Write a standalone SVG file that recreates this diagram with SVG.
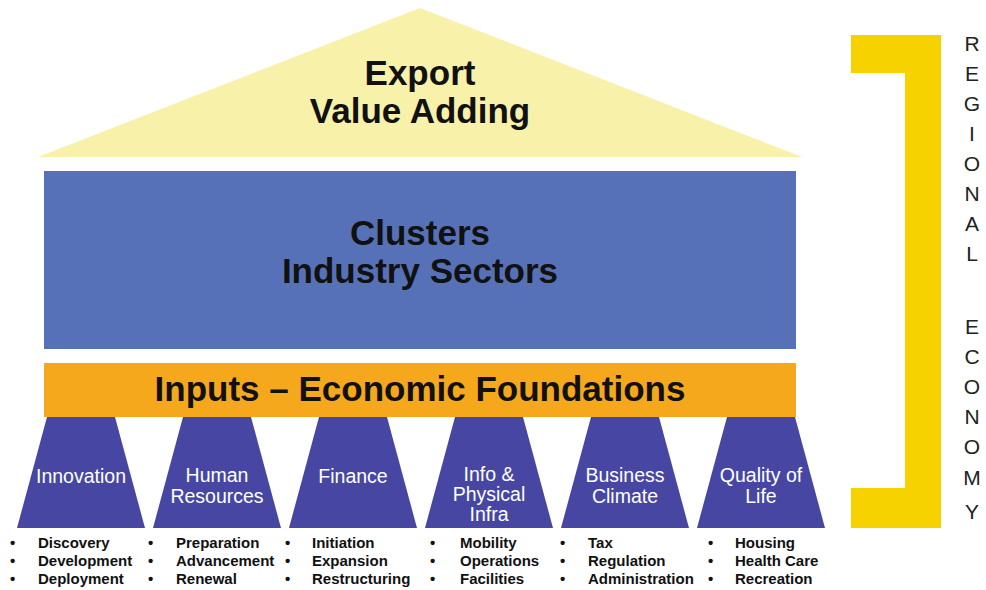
<svg xmlns="http://www.w3.org/2000/svg" width="986" height="590" viewBox="0 0 986 590">
<style>
.h{font-family:"Liberation Sans",Arial,sans-serif;font-weight:bold;font-size:35px;fill:#111;text-anchor:middle}
.tl{font-family:"Liberation Sans",Arial,sans-serif;font-size:19.5px;fill:#fff;text-anchor:middle}
.bl{font-family:"Liberation Sans",Arial,sans-serif;font-weight:bold;font-size:15px;fill:#111}
.rg{font-family:"Liberation Sans",Arial,sans-serif;font-size:21px;fill:#222;text-anchor:middle}
.trap{fill:#4747a3}
</style>
<rect width="986" height="590" fill="#fff"/>
<g id="roof">
<polygon points="420,8 802,157 38,157" fill="#f8f1a9"/>
<text class="h" x="420" y="85">Export</text>
<text class="h" x="420" y="123">Value Adding</text>
</g>
<g id="clusters">
<rect x="44" y="171" width="752" height="178" fill="#5671b7"/>
<text class="h" x="420" y="245">Clusters</text>
<text class="h" x="420" y="283">Industry Sectors</text>
</g>
<g id="inputs">
<rect x="44" y="363" width="752" height="54" fill="#f5a81c"/>
<text class="h" x="420" y="401">Inputs – Economic Foundations</text>
</g>
<g id="innovation">
<polygon class="trap" points="47,417 115,417 145,528 17,528"/>
<text class="tl" x="81" y="483">Innovation</text>
</g>
<g id="human-resources">
<polygon class="trap" points="183,417 251,417 281,528 153,528"/>
<text class="tl" x="217" y="482">Human</text>
<text class="tl" x="217" y="503">Resources</text>
</g>
<g id="finance">
<polygon class="trap" points="319,417 387,417 417,528 289,528"/>
<text class="tl" x="353" y="483">Finance</text>
</g>
<g id="infra">
<polygon class="trap" points="455,417 523,417 553,528 425,528"/>
<text class="tl" x="489" y="481">Info &amp;</text>
<text class="tl" x="489" y="501">Physical</text>
<text class="tl" x="489" y="521">Infra</text>
</g>
<g id="business-climate">
<polygon class="trap" points="591,417 659,417 689,528 561,528"/>
<text class="tl" x="625" y="482">Business</text>
<text class="tl" x="625" y="503">Climate</text>
</g>
<g id="quality-of-life">
<polygon class="trap" points="727,417 795,417 825,528 697,528"/>
<text class="tl" x="761" y="482">Quality of</text>
<text class="tl" x="761" y="503">Life</text>
</g>
<g id="bullets">
<g class="bl">
<text x="10" y="548">•</text><text x="10" y="566">•</text><text x="10" y="584">•</text>
<text x="38" y="548">Discovery</text><text x="38" y="566">Development</text><text x="38" y="584">Deployment</text>
<text x="148" y="548">•</text><text x="148" y="566">•</text><text x="148" y="584">•</text>
<text x="176" y="548">Preparation</text><text x="176" y="566">Advancement</text><text x="176" y="584">Renewal</text>
<text x="285" y="548">•</text><text x="285" y="566">•</text><text x="285" y="584">•</text>
<text x="312" y="548">Initiation</text><text x="312" y="566">Expansion</text><text x="312" y="584">Restructuring</text>
<text x="430" y="548">•</text><text x="430" y="566">•</text><text x="430" y="584">•</text>
<text x="460" y="548">Mobility</text><text x="460" y="566">Operations</text><text x="460" y="584">Facilities</text>
<text x="560" y="548">•</text><text x="560" y="566">•</text><text x="560" y="584">•</text>
<text x="588" y="548">Tax</text><text x="588" y="566">Regulation</text><text x="588" y="584">Administration</text>
<text x="708" y="548">•</text><text x="708" y="566">•</text><text x="708" y="584">•</text>
<text x="735" y="548">Housing</text><text x="735" y="566">Health Care</text><text x="735" y="584">Recreation</text>
</g>
</g>
<g id="regional-economy">
<path d="M851,35 H941 V528 H851 V488 H905 V73 H851 Z" fill="#f6d300"/>
<g class="rg">
<text x="972" y="51">R</text>
<text x="972" y="81">E</text>
<text x="972" y="111">G</text>
<text x="972" y="141">I</text>
<text x="972" y="171">O</text>
<text x="972" y="201">N</text>
<text x="972" y="231">A</text>
<text x="972" y="261">L</text>
<text x="972" y="334">E</text>
<text x="972" y="364">C</text>
<text x="972" y="394">O</text>
<text x="972" y="424">N</text>
<text x="972" y="454">O</text>
<text x="972" y="485">M</text>
<text x="972" y="519">Y</text>
</g>
</g>
</svg>
